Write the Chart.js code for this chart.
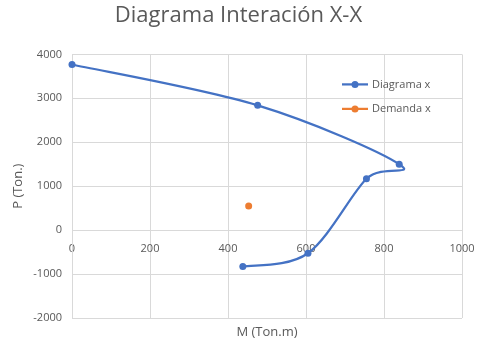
<!DOCTYPE html>
<html>
<head>
<meta charset="utf-8">
<script src="https://cdn.jsdelivr.net/npm/chart.js@4/dist/chart.umd.min.js"></script>
<style>
  html, body { margin: 0; padding: 0; background: #fff; }
  #wrap { width: 477px; height: 340px; }
</style>
</head>
<body>
<div id="wrap"><canvas id="c"></canvas></div>
<script>
// Interaction diagram (M, P) and the demand point
const diagramaM = [0, 476, 839, 755, 605, 438];
const diagramaP = [3770, 2840, 1500, 1168, -527, -827];
const demandaM = [453];
const demandaP = [551];

const xTicks = [0, 200, 400, 600, 800, 1000];
const yTicks = [-2000, -1000, 0, 1000, 2000, 3000, 4000];

const textColor = '#595959';
const gridColor = '#d9d9d9';
const fontFamily = '"Open Sans", "DejaVu Sans", sans-serif';

const toPoints = (xs, ys) => xs.map((x, i) => ({ x: x, y: ys[i] }));

// Smooth curve: Catmull-Rom style control points (1/6 of the neighbour chord)
const smoothCurve = {
  id: 'smoothCurve',
  beforeDatasetDraw(chart, args) {
    const ds = chart.data.datasets[args.index];
    const line = args.meta.dataset;
    if (!ds.showLine || !line) return;
    line.updateControlPoints(chart.chartArea, 'x');
    const pts = line.points;
    const n = pts.length;
    for (let i = 0; i < n; i++) {
      const p = pts[i];
      const prev = pts[Math.max(i - 1, 0)];
      const next = pts[Math.min(i + 1, n - 1)];
      const dx = (next.x - prev.x) / 6;
      const dy = (next.y - prev.y) / 6;
      p.cp1x = p.x - dx; p.cp1y = p.y - dy;
      p.cp2x = p.x + dx; p.cp2y = p.y + dy;
    }
    line._path = undefined;
  }
};

// Legend drawn inside the plot area, to the right
const innerLegend = {
  id: 'innerLegend',
  afterDatasetsDraw(chart) {
    const ctx = chart.ctx;
    const area = chart.chartArea;
    const x0 = area.right - 120;
    let y = area.top + 30;
    ctx.save();
    ctx.font = '11px ' + fontFamily;
    ctx.textBaseline = 'middle';
    ctx.textAlign = 'left';
    chart.data.datasets.forEach(ds => {
      ctx.strokeStyle = ds.borderColor;
      ctx.lineWidth = 2.25;
      ctx.beginPath();
      ctx.moveTo(x0, y);
      ctx.lineTo(x0 + 26, y);
      ctx.stroke();
      ctx.fillStyle = ds.backgroundColor;
      ctx.beginPath();
      ctx.arc(x0 + 13, y, 3.5, 0, Math.PI * 2);
      ctx.fill();
      ctx.fillStyle = textColor;
      ctx.fillText(ds.label, x0 + 30, y);
      y += 24.5;
    });
    ctx.restore();
  }
};

const noPad = s => { s.paddingLeft = 0; s.paddingRight = 0; };
const plain = v => String(v);

new Chart(document.getElementById('c'), {
  type: 'scatter',
  data: {
    datasets: [
      {
        label: 'Diagrama x',
        data: toPoints(diagramaM, diagramaP),
        showLine: true,
        tension: 0.4,
        borderColor: '#4472c4',
        backgroundColor: '#4472c4',
        borderWidth: 2.25,
        pointRadius: 3.5,
        pointBorderWidth: 0,
        clip: false
      },
      {
        label: 'Demanda x',
        data: toPoints(demandaM, demandaP),
        showLine: false,
        borderColor: '#ed7d31',
        backgroundColor: '#ed7d31',
        pointRadius: 3.5,
        pointBorderWidth: 0,
        clip: false
      }
    ]
  },
  options: {
    responsive: true,
    maintainAspectRatio: false,
    animation: false,
    layout: { padding: 0 },
    plugins: {
      legend: { display: false },
      tooltip: { enabled: false },
      title: {
        display: true,
        text: 'Diagrama Interación X-X',
        color: textColor,
        font: { family: fontFamily, size: 22, weight: 'normal' },
        padding: { top: 3, bottom: 25 }
      }
    },
    scales: {
      x: {
        type: 'linear',
        position: { y: 0 },
        min: 0,
        max: 1000,
        afterBuildTicks: s => { s.ticks = xTicks.map(v => ({ value: v })); },
        afterFit: noPad,
        grid: { color: gridColor, drawTicks: false, lineWidth: 1 },
        border: { color: gridColor },
        ticks: { color: textColor, font: { family: fontFamily, size: 11 }, padding: 12, maxRotation: 0, callback: plain }
      },
      x2: {
        type: 'linear',
        position: 'bottom',
        min: 0,
        max: 1000,
        afterFit: s => { s.height = 22; s.paddingLeft = 0; s.paddingRight = 0; },
        grid: { display: false, drawTicks: false },
        border: { display: false },
        ticks: { display: false },
        title: {
          display: true,
          text: 'M (Ton.m)',
          color: textColor,
          font: { family: fontFamily, size: 13 },
          padding: { top: 0, bottom: 0 }
        }
      },
      y: {
        type: 'linear',
        min: -2000,
        max: 4000,
        afterBuildTicks: s => { s.ticks = yTicks.map(v => ({ value: v })); },
        afterFit: s => { s.width = 72; },
        grid: { color: gridColor, drawTicks: false },
        border: { color: gridColor },
        ticks: { color: textColor, font: { family: fontFamily, size: 11 }, padding: 10, callback: plain },
        title: {
          display: true,
          text: 'P (Ton.)',
          color: textColor,
          font: { family: fontFamily, size: 13 },
          padding: { top: 10, bottom: 0 }
        }
      },
      // empty right margin beside the plot area
      yMargin: {
        type: 'linear',
        position: 'right',
        min: -2000,
        max: 4000,
        afterFit: s => { s.width = 15; },
        grid: { display: false, drawTicks: false },
        border: { display: false },
        ticks: { display: false }
      }
    }
  },
  plugins: [smoothCurve, innerLegend]
});
</script>
</body>
</html>
